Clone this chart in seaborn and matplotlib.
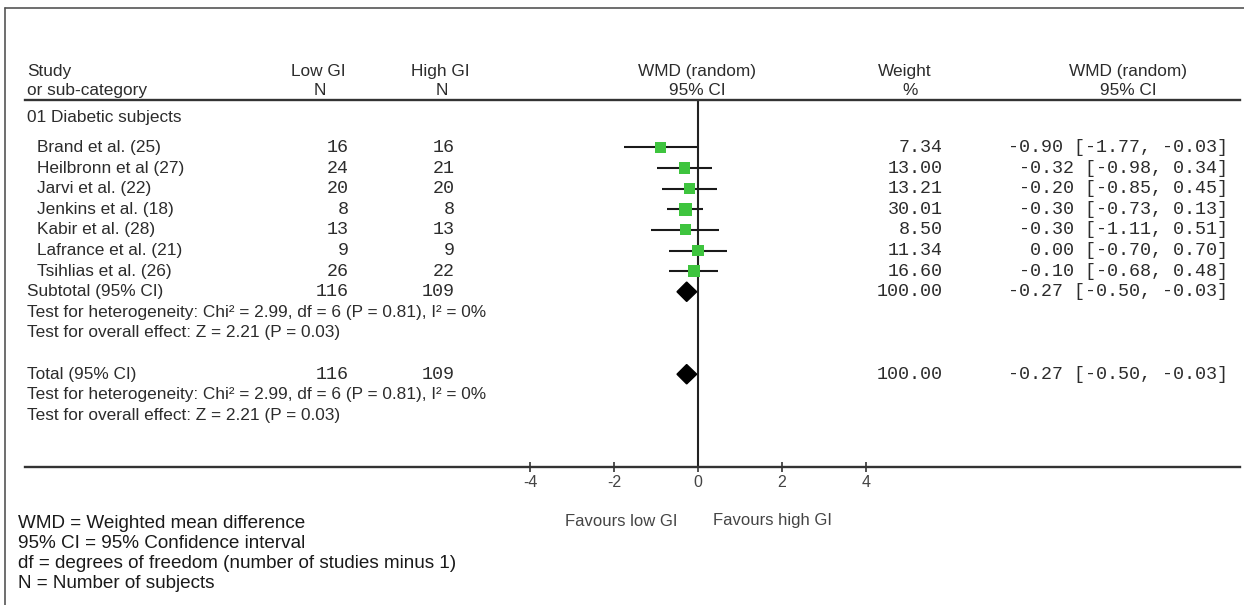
import numpy as np
import pandas as pd
import matplotlib
matplotlib.use("Agg")
import matplotlib.pyplot as plt
import seaborn as sns
from matplotlib.transforms import blended_transform_factory
from matplotlib.lines import Line2D

# ---------------- data ----------------
studies = ["Brand et al. (25)", "Heilbronn et al (27)", "Jarvi et al. (22)",
           "Jenkins et al. (18)", "Kabir et al. (28)", "Lafrance et al. (21)",
           "Tsihlias et al. (26)"]
n_low = [16, 24, 20, 8, 13, 9, 26]
n_high = [16, 21, 20, 8, 13, 9, 22]
wmd = [-0.90, -0.32, -0.20, -0.30, -0.30, 0.00, -0.10]
ci_low = [-1.77, -0.98, -0.85, -0.73, -1.11, -0.70, -0.68]
ci_high = [-0.03, 0.34, 0.45, 0.13, 0.51, 0.70, 0.48]
weights = [7.34, 13.00, 13.21, 30.01, 8.50, 11.34, 16.60]
pooled = [-0.27, -0.50, -0.03]   # estimate, lower, upper
total_low = 116
total_high = 109
total_weight = 100.00
group_label = "01 Diabetic subjects"
het_text = "Test for heterogeneity: Chi\u00b2 = 2.99, df = 6 (P = 0.81), I\u00b2 = 0%"
effect_text = "Test for overall effect: Z = 2.21 (P = 0.03)"
xticks = [-4, -2, 0, 2, 4]
fav_labels = ["Favours low GI", "Favours high GI"]
footnotes = ["WMD = Weighted mean difference",
             "95% CI = 95% Confidence interval",
             "df = degrees of freedom (number of studies minus 1)",
             "N = Number of subjects"]

# ---------------- layout ----------------
W, H = 1244, 605
sns.set_theme(style="white")
plt.rcParams['font.family'] = ['Liberation Sans', 'DejaVu Sans']
TXT = "#2c2c2c"
SANS = 12.4
MONO = dict(family=['Liberation Mono', 'DejaVu Sans Mono'], size=13.2)

fig = plt.figure(figsize=(W / 100, H / 100), dpi=100)
ax = fig.add_axes([25 / W, 1 - 467 / H, 1215 / W, 367 / H])
x0px, upx = 698, 42.0
ax.set_xlim((25 - x0px) / upx, (1240 - x0px) / upx)
ax.set_ylim(15.5, -2.3)

# frame around figure
fig.add_artist(Line2D([5 / W, 1], [1 - 8 / H, 1 - 8 / H], color="#555555", lw=1.2, transform=fig.transFigure))
fig.add_artist(Line2D([5 / W, 5 / W], [0, 1 - 8 / H], color="#555555", lw=1.2, transform=fig.transFigure))

for s in ["left", "right"]:
    ax.spines[s].set_visible(False)
for s in ["top", "bottom"]:
    ax.spines[s].set_color("#333333")
    ax.spines[s].set_linewidth(1.7)
ax.set_yticks([])
ax.set_xticks(xticks)
ax.set_xticklabels([str(t) for t in xticks])
ax.tick_params(axis="x", direction="inout", length=7, width=1.2, color="#333333",
               labelsize=11.5, labelcolor="#444444", pad=2, bottom=True)

ax.axvline(0, color="#222222", lw=1.5, zorder=1)

rows = np.arange(len(studies))
df = pd.DataFrame({"study": studies, "wmd": wmd, "lo": ci_low, "hi": ci_high,
                   "w": weights, "row": rows})
ax.hlines(df["row"], df["lo"], df["hi"], color="#1a1a1a", lw=1.5, zorder=2)
sns.scatterplot(data=df, x="wmd", y="row", size="w", sizes=(60, 88), marker="s",
                color="#3ec43e", edgecolor="none", legend=False, ax=ax, zorder=3)
ax.set_xlabel("")
ax.set_ylabel("")


def diamond(row, est, lo, hi, h=0.47):
    ax.fill([lo, est, hi, est], [row, row - h, row, row + h], color="black", zorder=4)


sub_row = len(studies)
total_row = sub_row + 4
diamond(sub_row, *pooled)
diamond(total_row, *pooled)

T = blended_transform_factory(fig.transFigure, ax.transData)


def put(px, row, s, ha="left", mono=False, **kw):
    if mono:
        ax.text(px / W, row, s, transform=T, ha=ha, va="center", color=TXT, **MONO, **kw)
    else:
        ax.text(px / W, row, s, transform=T, ha=ha, va="center", color=TXT, fontsize=SANS, **kw)


# headers
put(27, -3.66, "Study")
put(27, -2.74, "or sub-category")
put(318, -3.66, "Low GI", ha="center")
put(320, -2.74, "N", ha="center")
put(440, -3.66, "High GI", ha="center")
put(442, -2.74, "N", ha="center")
put(697, -3.66, "WMD (random)", ha="center")
put(697, -2.74, "95% CI", ha="center")
put(905, -3.66, "Weight", ha="center")
put(910, -2.74, "%", ha="center")
put(1128, -3.66, "WMD (random)", ha="center")
put(1128, -2.74, "95% CI", ha="center")

put(27, -1.47, group_label)
for i in rows:
    put(37, i, studies[i])
    put(349, i, str(n_low[i]), ha="right", mono=True)
    put(455, i, str(n_high[i]), ha="right", mono=True)
    put(943, i, f"{weights[i]:.2f}", ha="right", mono=True)
    put(1228, i, f"{wmd[i]:.2f} [{ci_low[i]:.2f}, {ci_high[i]:.2f}]", ha="right", mono=True)

pooled_str = f"{pooled[0]:.2f} [{pooled[1]:.2f}, {pooled[2]:.2f}]"
for r, lab in [(sub_row, "Subtotal (95% CI)"), (total_row, "Total (95% CI)")]:
    put(27, r, lab)
    put(349, r, str(total_low), ha="right", mono=True)
    put(455, r, str(total_high), ha="right", mono=True)
    put(943, r, f"{total_weight:.2f}", ha="right", mono=True)
    put(1228, r, pooled_str, ha="right", mono=True)
    put(27, r + 1, het_text)
    put(27, r + 2, effect_text)

# favours labels
fig.text(621 / W, 1 - 521 / H, fav_labels[0], ha="center", va="center", fontsize=12, color="#444444")
fig.text(713 / W, 1 - 521 / H, fav_labels[1], ha="left", va="center", fontsize=12, color="#444444")

# footnotes
for k, s in enumerate(footnotes):
    fig.text(18 / W, 1 - (523 + 20 * k) / H, s, ha="left", va="center", fontsize=13.6,
             color="#1a1a1a")

fig.savefig("out.png", dpi=100)
